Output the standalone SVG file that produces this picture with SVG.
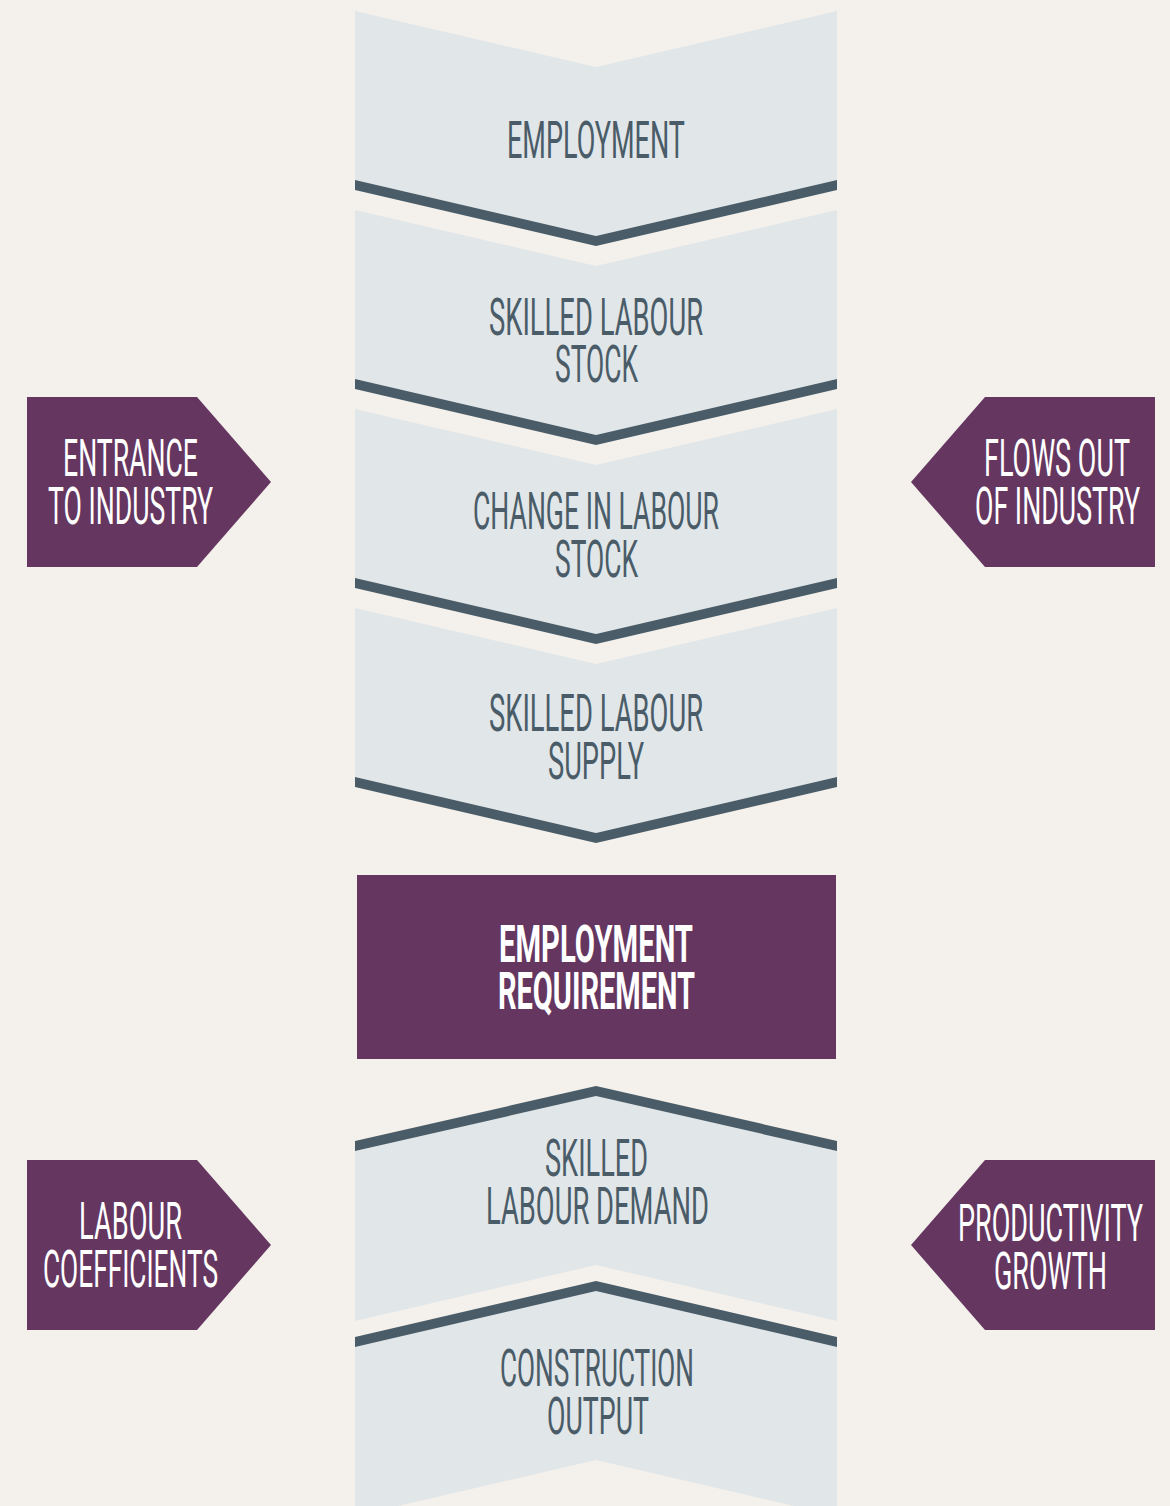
<svg xmlns="http://www.w3.org/2000/svg" width="1170" height="1506" viewBox="0 0 1170 1506">
<style>
.bg{fill:#F4F1EC}
.light{fill:#E1E6E9}
.band{fill:#4A5C68}
.purple{fill:#643660}
text{font-family:Roboto,"Liberation Sans",sans-serif;font-size:52px;lengthAdjust:spacingAndGlyphs}
.dk{fill:#4A5C68;font-weight:400}
.wt{fill:#FFFFFF;font-weight:400}
.wb{fill:#FFFFFF;font-weight:700}
</style>
<rect class="bg" x="0" y="0" width="1170" height="1506"/>

<g id="employment">
<polygon class="light" points="355,11 596,67 837,11 837,180 596,236 355,180"/>
<polygon class="band" points="355,180 596,236 837,180 837,190 596,246 355,190"/>
<text class="dk" x="507" y="158" textLength="178" lengthAdjust="spacingAndGlyphs">EMPLOYMENT</text>
</g>

<g id="skilled-labour-stock">
<polygon class="light" points="355,210 596,266 837,210 837,379 596,435 355,379"/>
<polygon class="band" points="355,379 596,435 837,379 837,389 596,445 355,389"/>
<text class="dk" x="489" y="335" textLength="214" lengthAdjust="spacingAndGlyphs">SKILLED LABOUR</text>
<text class="dk" x="555" y="382" textLength="83" lengthAdjust="spacingAndGlyphs">STOCK</text>
</g>

<g id="change-in-labour-stock">
<polygon class="light" points="355,409 596,465 837,409 837,578 596,634 355,578"/>
<polygon class="band" points="355,578 596,634 837,578 837,588 596,644 355,588"/>
<text class="dk" x="473" y="529" textLength="246" lengthAdjust="spacingAndGlyphs">CHANGE IN LABOUR</text>
<text class="dk" x="555" y="577" textLength="83" lengthAdjust="spacingAndGlyphs">STOCK</text>
</g>

<g id="skilled-labour-supply">
<polygon class="light" points="355,608 596,664 837,608 837,777 596,833 355,777"/>
<polygon class="band" points="355,777 596,833 837,777 837,787 596,843 355,787"/>
<text class="dk" x="489" y="731" textLength="214" lengthAdjust="spacingAndGlyphs">SKILLED LABOUR</text>
<text class="dk" x="548" y="779" textLength="96" lengthAdjust="spacingAndGlyphs">SUPPLY</text>
</g>

<g id="employment-requirement">
<rect class="purple" x="357" y="875" width="479" height="184"/>
<text class="wb" x="499" y="962" textLength="194" lengthAdjust="spacingAndGlyphs">EMPLOYMENT</text>
<text class="wb" x="498" y="1009" textLength="197" lengthAdjust="spacingAndGlyphs">REQUIREMENT</text>
</g>

<g id="skilled-labour-demand">
<polygon class="light" points="355,1151 596,1095 837,1151 837,1321 596,1265 355,1321"/>
<polygon class="band" points="355,1141 596,1086 837,1141 837,1151 596,1096 355,1151"/>
<text class="dk" x="545" y="1176" textLength="103" lengthAdjust="spacingAndGlyphs">SKILLED</text>
<text class="dk" x="486" y="1224" textLength="223" lengthAdjust="spacingAndGlyphs">LABOUR DEMAND</text>
</g>

<g id="construction-output">
<polygon class="light" points="355,1347 596,1290 837,1347 837,1516 596,1460 355,1516"/>
<polygon class="band" points="355,1337 596,1281 837,1337 837,1347 596,1291 355,1347"/>
<text class="dk" x="500" y="1386" textLength="194" lengthAdjust="spacingAndGlyphs">CONSTRUCTION</text>
<text class="dk" x="547" y="1434" textLength="102" lengthAdjust="spacingAndGlyphs">OUTPUT</text>
</g>

<g id="entrance-to-industry">
<polygon class="purple" points="27,397 197,397 271,482 197,567 27,567"/>
<text class="wt" x="63" y="476" textLength="135" lengthAdjust="spacingAndGlyphs">ENTRANCE</text>
<text class="wt" x="48" y="524" textLength="165" lengthAdjust="spacingAndGlyphs">TO INDUSTRY</text>
</g>

<g id="flows-out-of-industry">
<polygon class="purple" points="985,397 1155,397 1155,567 985,567 911,482"/>
<text class="wt" x="984" y="476" textLength="146" lengthAdjust="spacingAndGlyphs">FLOWS OUT</text>
<text class="wt" x="975" y="524" textLength="165" lengthAdjust="spacingAndGlyphs">OF INDUSTRY</text>
</g>

<g id="labour-coefficients">
<polygon class="purple" points="27,1160 197,1160 271,1245 197,1330 27,1330"/>
<text class="wt" x="79" y="1239" textLength="103" lengthAdjust="spacingAndGlyphs">LABOUR</text>
<text class="wt" x="43" y="1287" textLength="175" lengthAdjust="spacingAndGlyphs">COEFFICIENTS</text>
</g>

<g id="productivity-growth">
<polygon class="purple" points="985,1160 1155,1160 1155,1330 985,1330 911,1245"/>
<text class="wt" x="958" y="1241" textLength="185" lengthAdjust="spacingAndGlyphs">PRODUCTIVITY</text>
<text class="wt" x="994" y="1289" textLength="113" lengthAdjust="spacingAndGlyphs">GROWTH</text>
</g>

<g id="connectors"></g>
</svg>
